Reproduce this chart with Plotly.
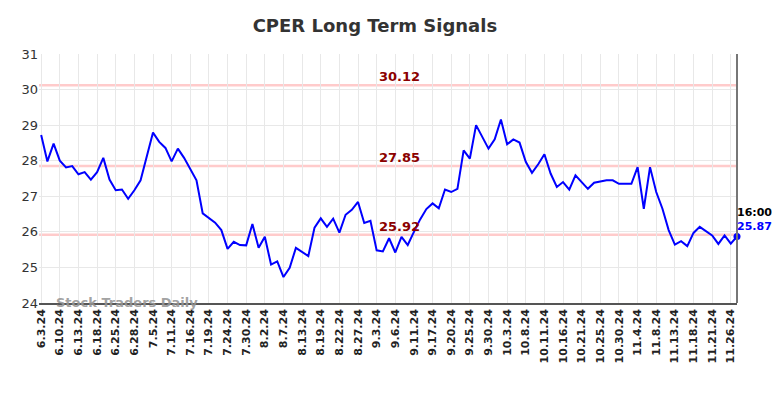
import plotly.graph_objects as go

dates = [
    "6.3.24", "6.5.24", "6.7.24", "6.10.24", "6.11.24", "6.12.24", "6.13.24", "6.14.24", "6.17.24",
    "6.18.24", "6.20.24", "6.21.24", "6.25.24", "6.26.24", "6.27.24", "6.28.24", "7.2.24", "7.3.24",
    "7.5.24", "7.8.24", "7.10.24", "7.11.24", "7.12.24", "7.15.24", "7.16.24", "7.17.24", "7.18.24",
    "7.19.24", "7.22.24", "7.23.24", "7.24.24", "7.26.24", "7.29.24", "7.30.24", "7.31.24", "8.1.24",
    "8.2.24", "8.5.24", "8.6.24", "8.7.24", "8.9.24", "8.12.24", "8.13.24", "8.15.24", "8.16.24",
    "8.19.24", "8.20.24", "8.21.24", "8.22.24", "8.23.24", "8.26.24", "8.27.24", "8.29.24", "8.30.24",
    "9.3.24", "9.4.24", "9.5.24", "9.6.24", "9.9.24", "9.10.24", "9.11.24", "9.13.24", "9.16.24",
    "9.17.24", "9.18.24", "9.19.24", "9.20.24", "9.23.24", "9.24.24", "9.25.24", "9.26.24", "9.27.24",
    "9.30.24", "10.1.24", "10.2.24", "10.3.24", "10.4.24", "10.7.24", "10.8.24", "10.9.24", "10.10.24",
    "10.11.24", "10.14.24", "10.15.24", "10.16.24", "10.17.24", "10.18.24", "10.21.24", "10.23.24", "10.24.24",
    "10.25.24", "10.28.24", "10.29.24", "10.30.24", "10.31.24", "11.1.24", "11.4.24", "11.6.24", "11.7.24",
    "11.8.24", "11.11.24", "11.12.24", "11.13.24", "11.14.24", "11.15.24", "11.18.24", "11.19.24", "11.20.24",
    "11.21.24", "11.22.24", "11.25.24", "11.26.24", "11.27.24",
]

prices = [
    28.72, 27.98, 28.48, 28.00, 27.81, 27.85, 27.62, 27.68, 27.47, 27.68,
    28.08, 27.47, 27.17, 27.19, 26.93, 27.17, 27.45, 28.10, 28.79, 28.53,
    28.36, 27.98, 28.34, 28.08, 27.76, 27.45, 26.52, 26.39, 26.26, 26.05,
    25.52, 25.72, 25.63, 25.62, 26.22, 25.55, 25.86, 25.08, 25.17, 24.73,
    24.99, 25.55, 25.43, 25.32, 26.12, 26.38, 26.14, 26.37, 25.98, 26.48,
    26.62, 26.84, 26.25, 26.31, 25.48, 25.45, 25.82, 25.42, 25.86, 25.63,
    26.00, 26.35, 26.64, 26.80, 26.66, 27.19, 27.12, 27.21, 28.29, 28.06,
    29.00, 28.67, 28.34, 28.60, 29.16, 28.46, 28.60, 28.51, 27.97, 27.66,
    27.90, 28.18, 27.64, 27.26, 27.40, 27.19, 27.59, 27.40, 27.21, 27.38,
    27.42, 27.45, 27.45, 27.35, 27.35, 27.35, 27.82, 26.65, 27.82, 27.12,
    26.65, 26.05, 25.64, 25.74, 25.60, 25.97, 26.14, 26.03, 25.90, 25.66,
    25.90, 25.67, 25.87,
]

signal_levels = [30.12, 27.85, 25.92]
signal_labels = ["30.12", "27.85", "25.92"]
y_ticks = [24, 25, 26, 27, 28, 29, 30, 31]
tick_dates = dates[::3]
last_time = "16:00"
title_text = "CPER Long Term Signals"
watermark = "Stock Traders Daily"

FONT = "DejaVu Sans"

fig = go.Figure()

fig.add_trace(go.Scatter(
    x=dates, y=prices, mode="lines",
    line=dict(color="#0000ff", width=2),
    hoverinfo="skip", showlegend=False, cliponaxis=False,
))
fig.add_trace(go.Scatter(
    x=[dates[-1]], y=[prices[-1]], mode="markers",
    marker=dict(color="#0000ff", size=7),
    hoverinfo="skip", showlegend=False, cliponaxis=False,
))

for lvl, lab in zip(signal_levels, signal_labels):
    fig.add_shape(type="line", xref="paper", x0=0, x1=1, yref="y", y0=lvl, y1=lvl,
                  line=dict(color="rgba(255,190,190,0.8)", width=2.5), layer="below")
    fig.add_annotation(xref="paper", x=0.517, yref="y", y=lvl, text="<b>%s</b>" % lab,
                       showarrow=False, yanchor="bottom", yshift=-1,
                       font=dict(family=FONT, size=13, color="#8b0000"))

# right edge line
fig.add_shape(type="line", xref="paper", x0=1, x1=1, yref="paper", y0=0, y1=1,
              line=dict(color="#777777", width=2))

fig.add_annotation(x=dates[-1], y=prices[-1], text="<b>%s</b>" % last_time, showarrow=False,
                   xanchor="left", yanchor="middle", xshift=-2, yshift=24,
                   font=dict(family=FONT, size=11, color="#000000"))
fig.add_annotation(x=dates[-1], y=prices[-1], text="<b>%.2f</b>" % prices[-1], showarrow=False,
                   xanchor="left", yanchor="middle", xshift=-2, yshift=10,
                   font=dict(family=FONT, size=11, color="#0000ff"))

fig.add_annotation(xref="paper", x=0.0215, yref="paper", y=0, text="<b>%s</b>" % watermark,
                   showarrow=False, xanchor="left", yanchor="middle", yshift=1,
                   font=dict(family=FONT, size=13, color="rgba(150,150,150,0.9)"))

# page body adds an 8px offset; compensate in the margins
fig.update_layout(
    width=784, height=398,
    margin=dict(l=31, r=55, t=46, b=103),
    paper_bgcolor="white", plot_bgcolor="white",
    title=dict(text="<b>%s</b>" % title_text, x=0.468, xanchor="center", y=0.955, yanchor="middle",
               font=dict(family=FONT, size=18, color="#333333")),
    font=dict(family=FONT),
    showlegend=False,
)

fig.update_xaxes(
    type="category", range=[-0.35, len(dates) - 1],
    tickmode="array", tickvals=tick_dates, ticktext=["<b>%s</b>" % t for t in tick_dates],
    tickangle=-90, tickfont=dict(family=FONT, size=11, color="#222222"),
    showgrid=True, gridcolor="#e8e8e8", gridwidth=1,
    showline=True, linecolor="#555555", linewidth=1.5,
    ticks="", zeroline=False,
)
fig.update_yaxes(
    range=[24, 31], tickmode="array", tickvals=y_ticks,
    tickfont=dict(family=FONT, size=13, color="#333333"),
    showgrid=True, gridcolor="#e8e8e8", gridwidth=1,
    showline=False, zeroline=False, ticks="", ticklen=0,
)

fig.write_html("out.html")
